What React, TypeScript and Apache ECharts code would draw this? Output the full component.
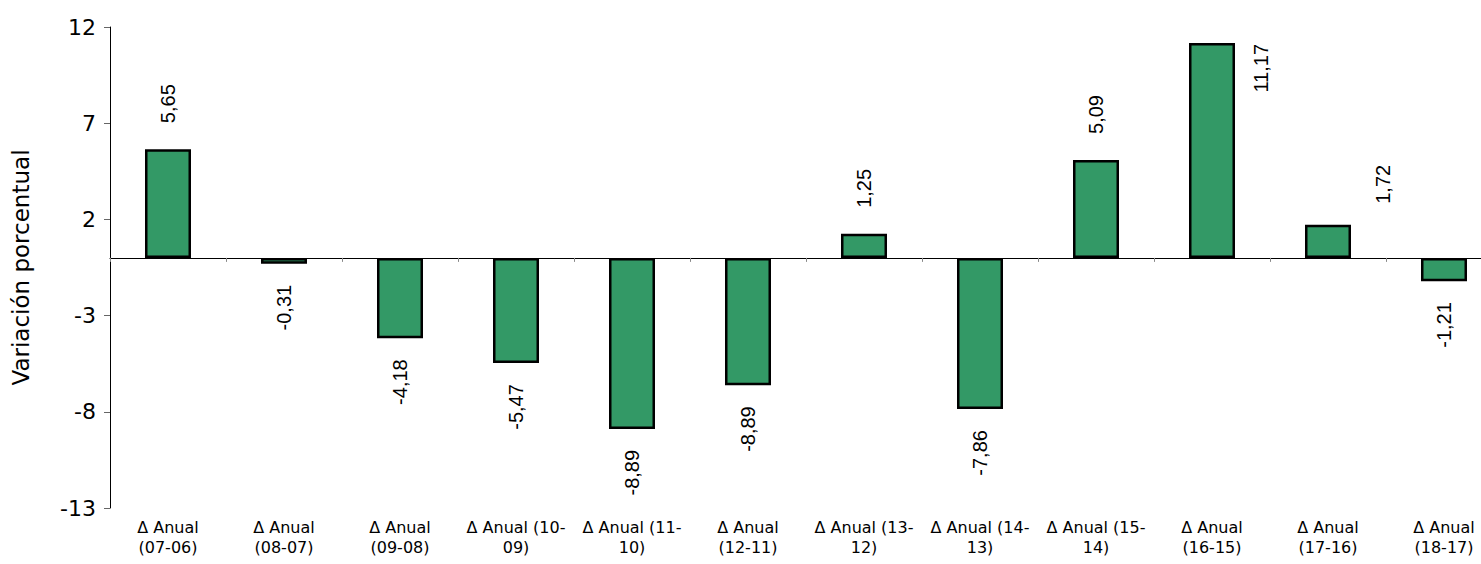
import React, { useEffect, useRef } from "react";
import * as echarts from "echarts";

const categories = [
  "Δ Anual\n(07-06)",
  "Δ Anual\n(08-07)",
  "Δ Anual\n(09-08)",
  "Δ Anual (10-\n09)",
  "Δ Anual (11-\n10)",
  "Δ Anual\n(12-11)",
  "Δ Anual (13-\n12)",
  "Δ Anual (14-\n13)",
  "Δ Anual (15-\n14)",
  "Δ Anual\n(16-15)",
  "Δ Anual\n(17-16)",
  "Δ Anual\n(18-17)",
];
const values = [5.65, -0.31, -4.18, -5.47, -8.89, -6.62, 1.25, -7.86, 5.09, 11.17, 1.72, -1.21];
const labelTexts = ["5,65", "-0,31", "-4,18", "-5,47", "-8,89", "-8,89", "1,25", "-7,86", "5,09", "11,17", "1,72", "-1,21"];
const yMin = -13;
const yMax = 12;
const yInterval = 5;
const yTitle = "Variación porcentual";

export default function App() {
  const ref = useRef<HTMLDivElement>(null);
  useEffect(() => {
    if (!ref.current) return;
    const chart = echarts.init(ref.current, null, { renderer: "svg" });
    const data = values.map((v, i) => {
      let label: any;
      if (i === 9) {
        label = { position: [72, 1], align: "right", verticalAlign: "middle" };
      } else if (i === 10) {
        label = { position: [78, -21], align: "left", verticalAlign: "middle" };
      } else if (v >= 0) {
        label = { position: "top", distance: 26, align: "left", verticalAlign: "middle" };
      } else {
        label = { position: "bottom", distance: 21, align: "right", verticalAlign: "middle" };
      }
      return { value: v, label };
    });
    chart.setOption({
      animation: false,
      backgroundColor: "#fff",
      grid: { left: 110, top: 27, bottom: 56, right: 0, containLabel: false },
      xAxis: [
        {
          type: "category",
          data: categories,
          position: "bottom",
          axisLine: { show: false, onZero: false },
          axisTick: { show: false },
          axisLabel: {
            interval: 0,
            margin: 9,
            fontFamily: "DejaVu Sans",
            fontSize: 16,
            lineHeight: 20,
            color: "#000",
          },
        },
        {
          type: "category",
          data: categories,
          position: "bottom",
          axisLine: { show: true, onZero: true, lineStyle: { color: "#000", width: 1 } },
          axisTick: { show: true, length: 4, lineStyle: { color: "#888" } },
          axisLabel: { show: false },
        },
      ],
      yAxis: {
        type: "value",
        min: yMin,
        max: yMax,
        interval: yInterval,
        name: yTitle,
        nameLocation: "middle",
        nameGap: 78,
        nameTextStyle: { fontFamily: "DejaVu Sans", fontSize: 23, color: "#000" },
        axisLine: { show: true, lineStyle: { color: "#000", width: 1 } },
        axisTick: { show: true, length: 6, lineStyle: { color: "#666" } },
        splitLine: { show: false },
        axisLabel: { fontFamily: "DejaVu Sans", fontSize: 22, color: "#000", margin: 14 },
      },
      series: [
        {
          type: "bar",
          xAxisIndex: 0,
          data,
          barWidth: 46,
          itemStyle: { color: "#339966", borderColor: "#000", borderWidth: 2.5 },
          label: {
            show: true,
            rotate: 90,
            fontFamily: "Liberation Sans",
            fontSize: 20,
            color: "#000",
            formatter: (p: any) => labelTexts[p.dataIndex],
          },
        },
      ],
    });
    return () => chart.dispose();
  }, []);
  return (
    <div style={{ position: "absolute", left: 0, top: 0, width: 1481, height: 564, overflow: "hidden" }}>
      <div ref={ref} style={{ width: 1502, height: 564 }} />
    </div>
  );
}
